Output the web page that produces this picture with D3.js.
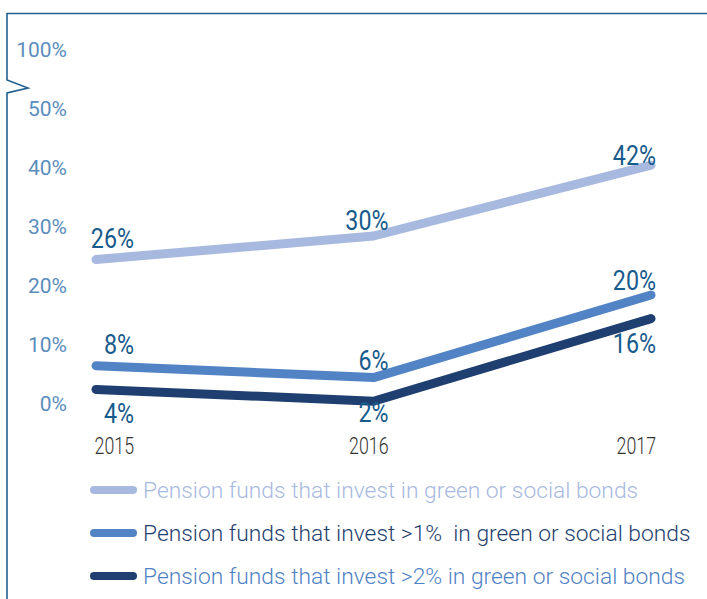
<!DOCTYPE html>
<html>
<head>
<meta charset="utf-8">
<script src="https://cdn.jsdelivr.net/npm/d3@7"></script>
<style>
  html, body { margin: 0; padding: 0; background: #fff; }
  svg { display: block; font-family: Roboto, "Noto Sans", sans-serif; }
</style>
</head>
<body>
<svg id="chart" width="707" height="599"></svg>
<script>
// ---- data ----
const years = [2015, 2016, 2017];
const seriesNames = [
  "Pension funds that invest in green or social bonds",
  "Pension funds that invest >1%  in green or social bonds",
  "Pension funds that invest >2% in green or social bonds"
];
const investAny = [26, 30, 42];
const investOver1 = [8, 6, 20];
const investOver2 = [4, 2, 16];
const tickValues = [0, 10, 20, 30, 40, 50, 60];
const tickLabels = ["0%", "10%", "20%", "30%", "40%", "50%", "100%"];

// ---- styling / layout ----
const lineColors = ["#a8b9df", "#5283c4", "#1f3f70"];
const legendTextColors = ["#a8b9df", "#1f3f6e", "#4f82c4"];
const labelColor = "#175b8c";
const tickColor = "#5b8dbd";
const frameColor = "#1f6090";
const labelDx = [38, 15, 5];
const labelDy = [
  [-21, -16, -10],
  [-22, -17, -15],
  [24, 11, 25]
];

const series = [investAny, investOver1, investOver2];
const svg = d3.select("#chart");

const x = d3.scalePoint().domain(years).range([96, 651]);
const y = d3.scaleLinear().domain([0, 60]).range([413, 59]);

// frame with axis break
svg.append("path")
  .attr("d", "M7,599 V93 L28,88 L7,80 V13.5 H707")
  .attr("fill", "none")
  .attr("stroke", frameColor)
  .attr("stroke-width", 1.6);

// y tick labels
svg.append("g").selectAll("text")
  .data(tickValues)
  .join("text")
  .attr("x", 67)
  .attr("y", d => y(d) - 9)
  .attr("dy", "0.35em")
  .attr("text-anchor", "end")
  .attr("font-size", 21)
  .attr("fill", tickColor)
  .text((d, i) => tickLabels[i]);

// lines
const line = d3.line()
  .x((d, i) => x(years[i]))
  .y(d => y(d));

svg.append("g").selectAll("path")
  .data(series)
  .join("path")
  .attr("d", d => line(d))
  .attr("fill", "none")
  .attr("stroke", (d, i) => lineColors[i])
  .attr("stroke-width", 9)
  .attr("stroke-linecap", "round")
  .attr("stroke-linejoin", "round");

// value labels
series.forEach((vals, si) => {
  svg.append("g").selectAll("text")
    .data(vals)
    .join("text")
    .attr("x", (d, i) => x(years[i]) + labelDx[i])
    .attr("y", (d, i) => y(d) + labelDy[si][i])
    .attr("dy", "0.35em")
    .attr("text-anchor", "end")
    .attr("font-size", 28)
    .attr("fill", labelColor)
    .text(d => d + "%")
    .each(function() {
      const w = this.getComputedTextLength();
      d3.select(this).attr("textLength", w * 0.83).attr("lengthAdjust", "spacingAndGlyphs");
    });
});

// year labels
svg.append("g").selectAll("text")
  .data(years)
  .join("text")
  .attr("x", (d, i) => x(d) + labelDx[i])
  .attr("y", 446)
  .attr("dy", "0.35em")
  .attr("text-anchor", "end")
  .attr("font-size", 24)
  .attr("font-weight", 300)
  .attr("fill", "#333")
  .text(d => d)
  .each(function() {
    const w = this.getComputedTextLength();
    d3.select(this).attr("textLength", w * 0.74).attr("lengthAdjust", "spacingAndGlyphs");
  });

// legend
const legendY = d3.scalePoint().domain(d3.range(seriesNames.length)).range([490, 576]);
const lg = svg.append("g").selectAll("g")
  .data(seriesNames)
  .join("g")
  .attr("transform", (d, i) => `translate(0,${legendY(i)})`);
lg.append("line")
  .attr("x1", 94).attr("x2", 133)
  .attr("y1", 0).attr("y2", 0)
  .attr("stroke", (d, i) => lineColors[i])
  .attr("stroke-width", 8)
  .attr("stroke-linecap", "round");
lg.append("text")
  .attr("x", 143)
  .attr("dy", "0.35em")
  .attr("font-size", 22.8)
  .attr("font-weight", 300)
  .style("white-space", "pre")
  .attr("fill", (d, i) => legendTextColors[i])
  .text(d => d);
</script>
</body>
</html>
